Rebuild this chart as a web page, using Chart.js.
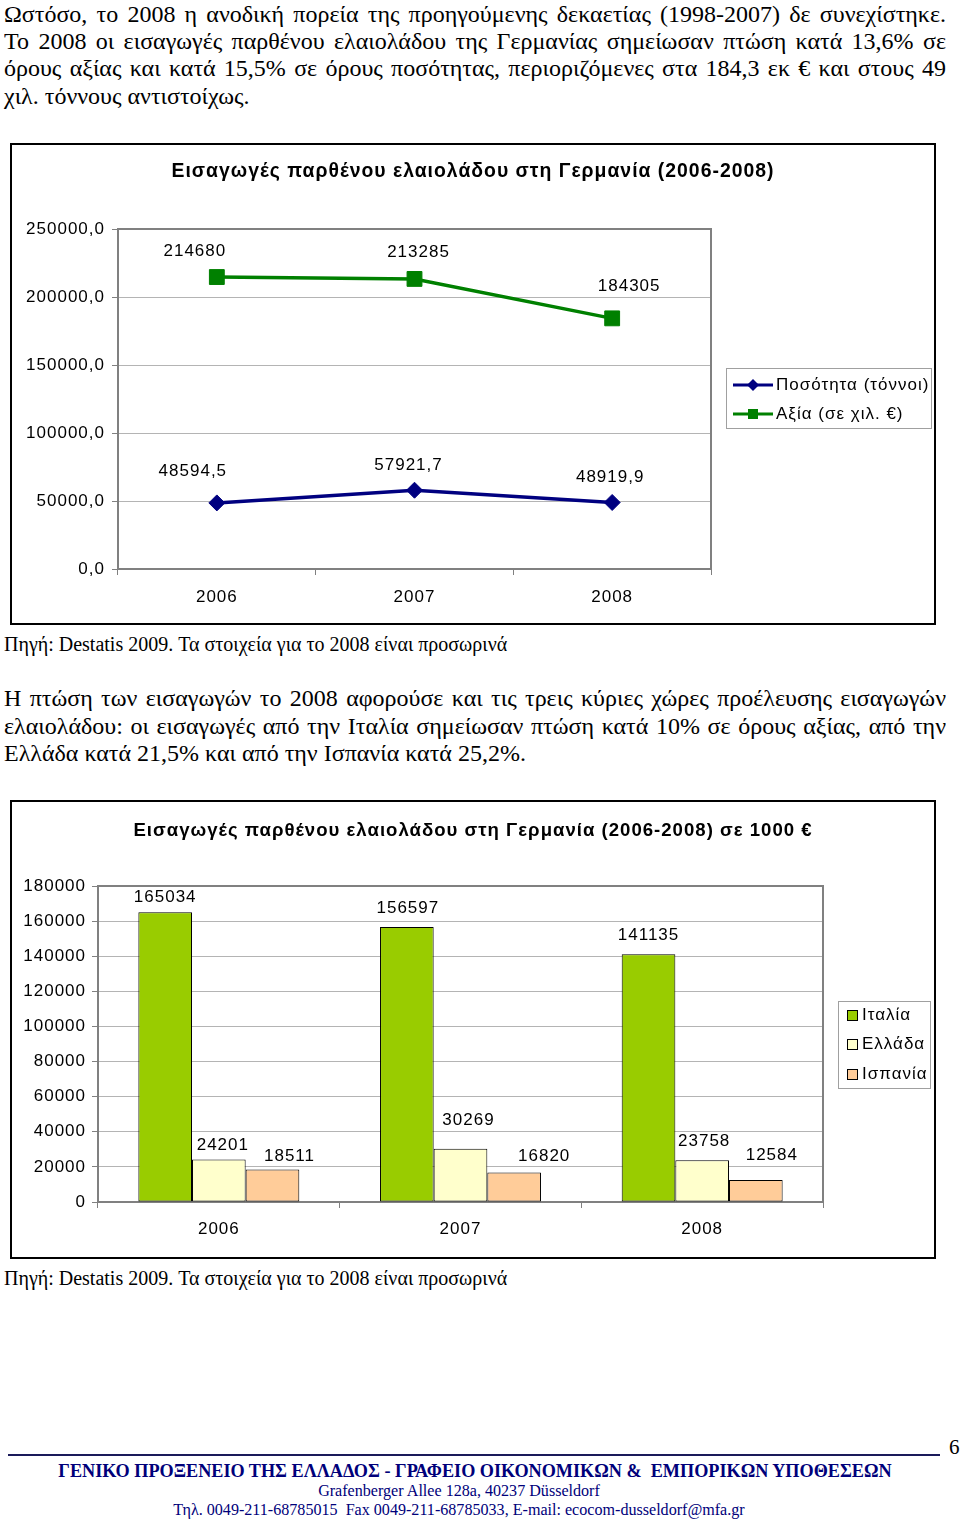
<!DOCTYPE html>
<html>
<head>
<meta charset="utf-8">
<script src="https://cdn.jsdelivr.net/npm/chart.js@4.4.0/dist/chart.umd.min.js"></script>
<style>
body { margin: 0; background: #fff; }
#page { position: relative; width: 960px; height: 1526px; overflow: hidden; font-family: "Liberation Serif", "Times New Roman", serif; color: #000; }
.ln { position: absolute; left: 4px; width: 942px; height: 28px; line-height: 28px; font-size: 24px; white-space: nowrap; }
.just { text-align: justify; text-align-last: justify; white-space: normal; overflow: hidden; }
.src { position: absolute; left: 4px; font-size: 20px; line-height: 22px; white-space: nowrap; }
.box { position: absolute; left: 10px; width: 926px; border: 2px solid #000; box-sizing: border-box; }
.box canvas { position: absolute; left: 0; top: 0; }
#rule { position: absolute; left: 8px; top: 1454px; width: 932px; height: 2px; background: #1a1a5a; }
#pagenum { position: absolute; left: 949px; top: 1435px; font-size: 21px; line-height: 24px; }
.foot { position: absolute; left: 0; width: 950px; text-align: center; color: #00007a; white-space: pre; }
</style>
</head>
<body>
<div id="page">
  <div class="ln just" style="top:0px">Ωστόσο, το 2008 η ανοδική πορεία της προηγούμενης δεκαετίας (1998-2007) δε συνεχίστηκε.</div>
  <div class="ln just" style="top:27px">Το 2008 οι εισαγωγές παρθένου ελαιολάδου της Γερμανίας σημείωσαν πτώση κατά 13,6% σε</div>
  <div class="ln just" style="top:54px">όρους αξίας και κατά 15,5% σε όρους ποσότητας, περιοριζόμενες στα 184,3 εκ € και στους 49</div>
  <div class="ln" style="top:82px">χιλ. τόννους αντιστοίχως.</div>

  <div class="box" style="top:143px;height:482px"><canvas id="lineChart" width="922" height="478"></canvas></div>
  <div class="src" style="top:633px">Πηγή: Destatis 2009. Τα στοιχεία για το 2008 είναι προσωρινά</div>

  <div class="ln just" style="top:684px">Η πτώση των εισαγωγών το 2008 αφορούσε και τις τρεις κύριες χώρες προέλευσης εισαγωγών</div>
  <div class="ln just" style="top:712px">ελαιολάδου: οι εισαγωγές από την Ιταλία σημείωσαν πτώση κατά 10% σε όρους αξίας, από την</div>
  <div class="ln" style="top:739px">Ελλάδα κατά 21,5% και από την Ισπανία κατά 25,2%.</div>

  <div class="box" style="top:800px;height:459px"><canvas id="barChart" width="922" height="455"></canvas></div>
  <div class="src" style="top:1267px">Πηγή: Destatis 2009. Τα στοιχεία για το 2008 είναι προσωρινά</div>

  <div id="pagenum">6</div>
  <div id="rule"></div>
  <div class="foot" style="top:1460px;font-size:18.2px;font-weight:bold;line-height:22px">ΓΕΝΙΚΟ ΠΡΟΞΕΝΕΙΟ ΤΗΣ ΕΛΛΑΔΟΣ - ΓΡΑΦΕΙΟ ΟΙΚΟΝΟΜΙΚΩΝ &amp;  ΕΜΠΟΡΙΚΩΝ ΥΠΟΘΕΣΕΩΝ</div>
  <div class="foot" style="top:1481px;font-size:16.1px;line-height:19px;width:918px">Grafenberger Allee 128a, 40237 Düsseldorf</div>
  <div class="foot" style="top:1500px;font-size:16.1px;line-height:19px;width:918px">Τηλ. 0049-211-68785015  Fax 0049-211-68785033, E-mail: ecocom-dusseldorf@mfa.gr</div>
</div>

<script>
// Chart 1 data
const years = ['2006', '2007', '2008'];
const quantityTonnes = [48594.5, 57921.7, 48919.9];
const valueThousandEur = [214680, 213285, 184305];
const lineTicks = [0, 50000, 100000, 150000, 200000, 250000];

// Chart 2 data
const countries = ['Ιταλία', 'Ελλάδα', 'Ισπανία'];
const italy = [165034, 156597, 141135];
const greece = [24201, 30269, 23758];
const spain = [18511, 16820, 12584];
const barTicks = [0, 20000, 40000, 60000, 80000, 100000, 120000, 140000, 160000, 180000];

const SANS = '"Liberation Sans", Arial, sans-serif';
const GRID = '#b4b4b4';
const FRAME = '#808080';

let commaOne = (v) => v.toFixed(1).replace('.', ',');

Chart.defaults.font.family = SANS;
Chart.defaults.font.size = 17;
Chart.defaults.color = '#000';

// letter spacing like the Excel rendering
const spacing = {
    id: 'spacing',
    beforeDraw(chart) { chart.ctx.letterSpacing = '1px'; }
};

// top and right edge of the plot area
const frame = {
    id: 'frame',
    afterDraw(chart) {
        const a = chart.chartArea, ctx = chart.ctx;
        ctx.save();
        ctx.strokeStyle = FRAME;
        ctx.lineWidth = 2;
        ctx.beginPath();
        ctx.moveTo(a.left, a.top);
        ctx.lineTo(a.right, a.top);
        ctx.lineTo(a.right, a.bottom);
        ctx.stroke();
        ctx.restore();
    }
};

function makeTitle(text, y, size) {
    return {
        id: 'pageTitle',
        afterDraw(chart) {
            const ctx = chart.ctx;
            ctx.save();
            ctx.font = 'bold ' + size + 'px ' + SANS;
            ctx.letterSpacing = '1px';
            ctx.fillStyle = '#000';
            ctx.textAlign = 'center';
            ctx.textBaseline = 'middle';
            ctx.fillText(text, 461, y);
            ctx.restore();
        }
    };
}

// value labels next to each point / bar
function makeLabels(offsets, format) {
    return {
        id: 'valueLabels',
        afterDatasetsDraw(chart) {
            const ctx = chart.ctx;
            ctx.save();
            ctx.font = '17px ' + SANS;
            ctx.letterSpacing = '1px';
            ctx.fillStyle = '#000';
            ctx.textAlign = 'center';
            ctx.textBaseline = 'middle';
            chart.data.datasets.forEach((ds, i) => {
                chart.getDatasetMeta(i).data.forEach((el, j) => {
                    const off = offsets[i][j];
                    ctx.fillText(format(i, ds.data[j]), el.x + off[0], el.y + off[1]);
                });
            });
            ctx.restore();
        }
    };
}

// legend box drawn from the datasets
function makeLegend(box, rowYs, kind) {
    return {
        id: 'sideLegend',
        afterDraw(chart) {
            const ctx = chart.ctx;
            ctx.save();
            ctx.strokeStyle = '#a0a0a0';
            ctx.lineWidth = 1;
            ctx.strokeRect(box.x + 0.5, box.y + 0.5, box.w, box.h);
            ctx.font = '17px ' + SANS;
            ctx.letterSpacing = '1px';
            ctx.textBaseline = 'middle';
            ctx.textAlign = 'left';
            chart.data.datasets.forEach((ds, i) => {
                const y = rowYs[i];
                const x0 = box.x + 7;
                if (kind == 'line') {
                    ctx.strokeStyle = ds.borderColor;
                    ctx.lineWidth = 3;
                    ctx.beginPath();
                    ctx.moveTo(x0, y);
                    ctx.lineTo(x0 + 40, y);
                    ctx.stroke();
                    ctx.fillStyle = ds.backgroundColor;
                    ctx.beginPath();
                    if (ds.pointStyle == 'rect') {
                        ctx.rect(x0 + 15, y - 5, 10, 10);
                    } else {
                        ctx.moveTo(x0 + 20, y - 6); ctx.lineTo(x0 + 26, y);
                        ctx.lineTo(x0 + 20, y + 6); ctx.lineTo(x0 + 14, y);
                        ctx.closePath();
                    }
                    ctx.fill();
                    ctx.fillStyle = '#000';
                    ctx.fillText(ds.label, x0 + 43, y);
                } else {
                    ctx.fillStyle = ds.backgroundColor;
                    ctx.fillRect(x0 + 2, y - 5, 10, 10);
                    ctx.strokeStyle = '#000';
                    ctx.strokeRect(x0 + 2.5, y - 4.5, 10, 10);
                    ctx.fillStyle = '#000';
                    ctx.fillText(ds.label, x0 + 17, y);
                }
            });
            ctx.restore();
        }
    };
}

function fixedTicks(list) {
    return (scale) => { scale.ticks = list.map(v => ({ value: v })); };
}

// Line chart: quantity and value
function initiate_line_chart() {
    const ctx = document.getElementById('lineChart').getContext('2d');
    new Chart(ctx, {
        type: 'line',
        data: {
            labels: years,
            datasets: [{
                label: 'Ποσότητα (τόννοι)',
                data: quantityTonnes,
                borderColor: '#000080',
                backgroundColor: '#000080',
                borderWidth: 3.5,
                pointStyle: 'rectRot',
                pointRadius: 8,
                pointBorderWidth: 1,
                tension: 0
            }, {
                label: 'Αξία (σε χιλ. €)',
                data: valueThousandEur,
                borderColor: '#008000',
                backgroundColor: '#008000',
                borderWidth: 3.5,
                pointStyle: 'rect',
                pointRadius: 10.5,
                pointBorderWidth: 1,
                tension: 0
            }]
        },
        options: {
            responsive: false,
            animation: false,
            devicePixelRatio: 1,
            layout: { padding: { top: 84, right: 223, left: 0, bottom: 0 } },
            scales: {
                x: {
                    offset: true,
                    grid: { offset: true, drawOnChartArea: false, tickLength: 6, tickColor: FRAME },
                    border: { color: FRAME, width: 2 },
                    ticks: { padding: 12 },
                    afterFit: (s) => { s.height = 54; }
                },
                y: {
                    min: lineTicks[0],
                    max: lineTicks[lineTicks.length - 1],
                    afterBuildTicks: fixedTicks(lineTicks),
                    grid: { color: GRID, tickLength: 6, tickColor: FRAME },
                    border: { color: FRAME, width: 2 },
                    ticks: { padding: 7, callback: (v) => commaOne(v) },
                    afterFit: (s) => { s.width = 106; }
                }
            },
            plugins: { legend: { display: false }, tooltip: { enabled: false } }
        },
        plugins: [
            spacing, frame,
            makeTitle('Εισαγωγές παρθένου ελαιολάδου στη Γερμανία (2006-2008)', 27, 19.4),
            makeLabels(
                [[[-24, -32], [-6, -25], [-2, -25]], [[-22, -26], [4, -27], [17, -32]]],
                (i, v) => i == 0 ? commaOne(v) : String(v)
            ),
            makeLegend({ x: 714, y: 223, w: 205, h: 60 }, [240, 269], 'line')
        ]
    });
}

// Bar chart: imports by country of origin
function initiate_bar_chart() {
    const ctx = document.getElementById('barChart').getContext('2d');
    const colors = ['#99cc00', '#ffffcc', '#ffcc99'];
    const series = [italy, greece, spain];
    new Chart(ctx, {
        type: 'bar',
        data: {
            labels: years,
            datasets: countries.map((c, i) => ({
                label: c,
                data: series[i],
                backgroundColor: colors[i],
                borderColor: '#000',
                borderWidth: 1,
                borderSkipped: false,
                categoryPercentage: 0.666,
                barPercentage: 1.0
            }))
        },
        options: {
            responsive: false,
            animation: false,
            devicePixelRatio: 1,
            layout: { padding: { top: 84, right: 111, left: 0, bottom: 0 } },
            scales: {
                x: {
                    grid: { offset: true, drawOnChartArea: false, tickLength: 6, tickColor: FRAME },
                    border: { color: FRAME, width: 2 },
                    ticks: { padding: 11 },
                    afterFit: (s) => { s.height = 55; }
                },
                y: {
                    min: barTicks[0],
                    max: barTicks[barTicks.length - 1],
                    afterBuildTicks: fixedTicks(barTicks),
                    grid: { color: GRID, tickLength: 6, tickColor: FRAME },
                    border: { color: FRAME, width: 2 },
                    ticks: { padding: 6, callback: (v) => String(v) },
                    afterFit: (s) => { s.width = 86; }
                }
            },
            plugins: { legend: { display: false }, tooltip: { enabled: false } }
        },
        plugins: [
            spacing, frame,
            makeTitle('Εισαγωγές παρθένου ελαιολάδου στη Γερμανία (2006-2008) σε 1000 €', 29, 18.6),
            makeLabels(
                [[[0, -15], [1, -19], [0, -19]], [[4, -14], [8, -29], [2, -19]], [[17, -13], [30, -16], [16, -25]]],
                (i, v) => String(v)
            ),
            makeLegend({ x: 826, y: 199, w: 92, h: 87 }, [213, 242, 272], 'bar')
        ]
    });
}

initiate_line_chart();
initiate_bar_chart();
</script>
</body>
</html>
